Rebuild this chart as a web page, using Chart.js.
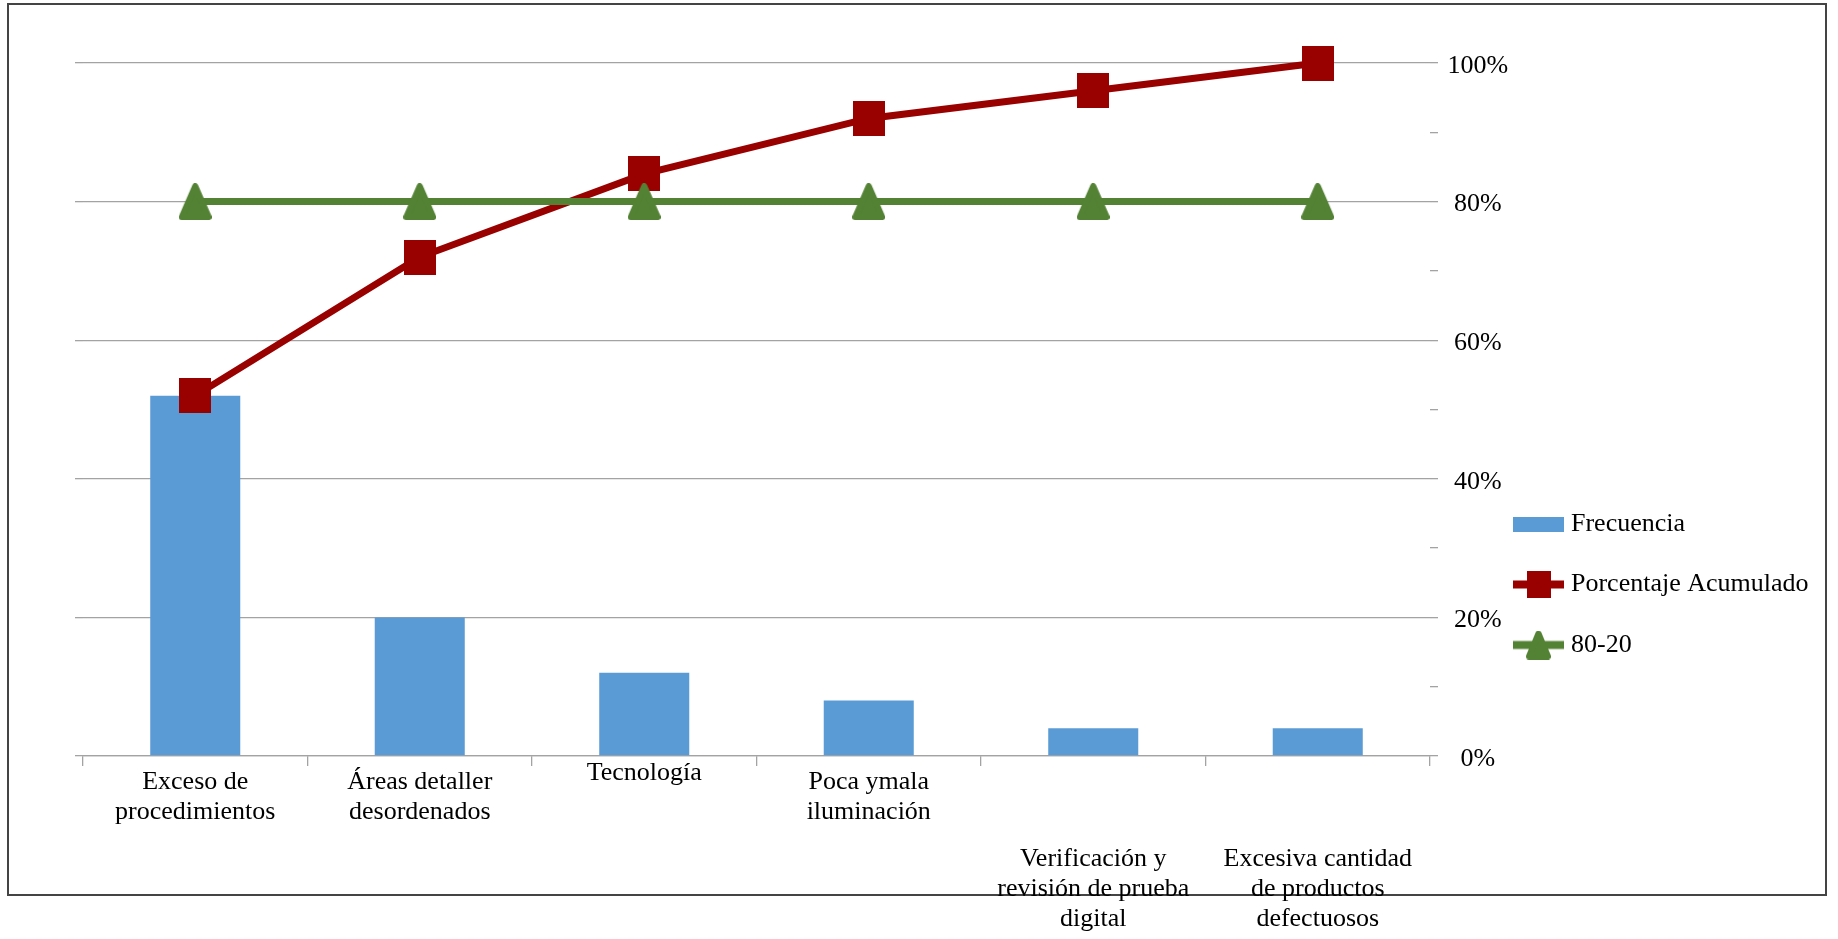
<!DOCTYPE html>
<html lang="es">
<head>
<meta charset="utf-8">
<title>Diagrama de Pareto</title>
<script src="https://cdn.jsdelivr.net/npm/chart.js@4"></script>
<style>
  html, body { margin: 0; padding: 0; background: #fff; }
  canvas { display: block; }
</style>
</head>
<body>
<canvas id="pareto" width="1838" height="939"></canvas>
<script>
// Categorías (cada una en sus líneas de texto)
const categorias = [
  ['Exceso de', 'procedimientos'],
  ['Áreas detaller', 'desordenados'],
  ['Tecnología'],
  ['Poca ymala', 'iluminación'],
  ['Verificación y', 'revisión de prueba', 'digital'],
  ['Excesiva cantidad', 'de productos', 'defectuosos']
];
// Valores en porcentaje
const frecuencia = [52, 20, 12, 8, 4, 4];
const porcentajeAcumulado = [52, 72, 84, 92, 96, 100];
const linea8020 = [80, 80, 80, 80, 80, 80];
// Marcas rotuladas del eje de porcentaje
const marcasEje = [0, 20, 40, 60, 80, 100];

const FUENTE = "'Liberation Serif', 'Times New Roman', serif";
const AZUL = '#5b9bd5';
const ROJO = '#990000';
const VERDE = '#548235';
const GRIS = '#a3a3a3';

Chart.defaults.font.family = FUENTE;
Chart.defaults.font.size = 26;
Chart.defaults.color = '#000';

function lienzo(w, h, dibujar) {
  const c = document.createElement('canvas');
  c.width = w; c.height = h;
  dibujar(c.getContext('2d'), w, h);
  return c;
}
function cuadrado(w, h) {
  return lienzo(w, h, (g) => { g.fillStyle = ROJO; g.fillRect(0, 0, w, h); });
}
function triangulo(w, h) {
  return lienzo(w, h, (g) => {
    const r = 3;
    g.fillStyle = VERDE; g.strokeStyle = VERDE;
    g.lineWidth = 2 * r; g.lineJoin = 'round';
    g.beginPath();
    g.moveTo(w / 2, r);
    g.lineTo(w - r, h - r);
    g.lineTo(r, h - r);
    g.closePath();
    g.fill(); g.stroke();
  });
}
function simboloLinea(marca, color, grosor) {
  const w = 51, h = marca.height;
  return lienzo(w, h, (g) => {
    g.fillStyle = color;
    g.fillRect(0, (h - grosor) / 2, w, grosor);
    g.drawImage(marca, (w - marca.width) / 2, 0);
  });
}

const marcaCuadrada = cuadrado(32, 35);
const marcaTriangular = triangulo(33, 37);
const simbolos = [
  lienzo(51, 15, (g) => { g.fillStyle = AZUL; g.fillRect(0, 0, 51, 15); }),
  simboloLinea(cuadrado(24, 27), ROJO, 8),
  simboloLinea(triangulo(25, 29), VERDE, 8)
];

// Marco exterior del gráfico
const marco = {
  id: 'marco',
  beforeDraw(chart) {
    const g = chart.ctx;
    g.save();
    g.fillStyle = '#fff';
    g.fillRect(0, 0, chart.width, chart.height);
    g.strokeStyle = '#444';
    g.lineWidth = 2;
    g.strokeRect(8, 4, 1818, 891);
    g.restore();
  }
};

const etiqueta = (scale, v) => scale.getLabelForValue(v);

new Chart(document.getElementById('pareto'), {
  data: {
    labels: categorias,
    datasets: [
      {
        type: 'bar', label: 'Frecuencia', data: frecuencia,
        backgroundColor: AZUL, categoryPercentage: 1, barPercentage: 0.401,
        xAxisID: 'x', yAxisID: 'y', order: 3
      },
      {
        type: 'line', label: 'Porcentaje Acumulado', data: porcentajeAcumulado,
        borderColor: ROJO, backgroundColor: ROJO, borderWidth: 7, tension: 0, fill: false,
        pointStyle: marcaCuadrada, pointRadius: 16, pointHoverRadius: 16, clip: false,
        xAxisID: 'x', yAxisID: 'y', order: 2
      },
      {
        type: 'line', label: '80-20', data: linea8020,
        borderColor: VERDE, backgroundColor: VERDE, borderWidth: 7, tension: 0, fill: false,
        pointStyle: marcaTriangular, pointRadius: 16, pointHoverRadius: 16, clip: false,
        xAxisID: 'x', yAxisID: 'y', order: 1
      }
    ]
  },
  options: {
    responsive: false,
    devicePixelRatio: 1,
    animation: false,
    layout: { padding: { left: 75, right: 27.5, top: 63, bottom: 5 } },
    plugins: {
      tooltip: { enabled: false },
      legend: {
        position: 'right',
        align: 'start',
        maxWidth: 326,
        title: { display: true, text: '', font: { size: 26, lineHeight: 1.2 }, padding: { top: 382.3, bottom: 0 } },
        labels: {
          usePointStyle: true,
          pointStyleWidth: 39,
          padding: 34.5,
          color: '#000',
          font: { family: FUENTE, size: 26 },
          generateLabels: (chart) => chart.data.datasets.map((ds, i) => ({
            text: ds.label,
            pointStyle: simbolos[i],
            fillStyle: 'transparent',
            strokeStyle: 'transparent',
            lineWidth: 0,
            hidden: false,
            datasetIndex: i,
            fontColor: '#000'
          }))
        }
      }
    },
    scales: {
      x: {
        type: 'category', position: 'bottom', offset: true,
        grid: { offset: true, drawOnChartArea: false, drawTicks: true, tickLength: 10, color: GRIS, lineWidth: 1.3 },
        border: { display: true, color: GRIS, width: 1.3 },
        ticks: {
          autoSkip: false, maxRotation: 0, minRotation: 0, padding: 1, color: '#000',
          font: (c) => ({
            family: FUENTE, size: 26,
            lineHeight: (c.index != null && categorias[c.index] && categorias[c.index].length === 1) ? 0.5 : 1.15
          }),
          callback: function (v) { const e = etiqueta(this, v); return e.length < 3 ? e : ''; }
        },
        afterFit: (s) => { s.height = 80; }
      },
      x2: {
        type: 'category', position: 'bottom', offset: true, weight: 1,
        grid: { display: false, drawTicks: false },
        border: { display: false },
        ticks: {
          autoSkip: false, maxRotation: 0, minRotation: 0, padding: 8, color: '#000',
          font: { family: FUENTE, size: 26, lineHeight: 1.15 },
          callback: function (v) { const e = etiqueta(this, v); return e.length >= 3 ? e : ''; }
        },
        afterFit: (s) => { s.height = 98; }
      },
      y: {
        position: 'right', min: 0, max: 100,
        ticks: {
          mirror: true, stepSize: 10, padding: 78.2, crossAlign: 'center', labelOffset: 3, color: '#000',
          font: { family: FUENTE, size: 26 },
          callback: (v) => marcasEje.includes(v) ? v + '%' : ''
        },
        grid: {
          color: (c) => (c.tick && marcasEje.includes(c.tick.value)) ? GRIS : 'rgba(0,0,0,0)',
          tickColor: GRIS, tickLength: 8, lineWidth: 1.3
        },
        border: { display: false },
        afterFit: (s) => { s.width = 54.5; s.paddingTop = 0; s.paddingBottom = 0; }
      },
      yL: {
        position: 'left', min: 0, max: 100,
        ticks: { display: false, stepSize: 20 },
        grid: { drawOnChartArea: false, tickLength: 8, color: GRIS, lineWidth: 1.3 },
        border: { display: false },
        afterFit: (s) => { s.width = 8; s.paddingTop = 0; s.paddingBottom = 0; }
      }
    }
  },
  plugins: [marco]
});
</script>
</body>
</html>
